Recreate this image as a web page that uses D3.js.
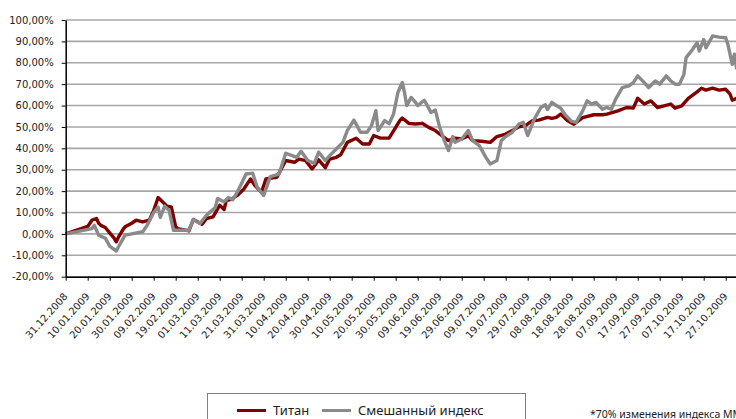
<!DOCTYPE html>
<meta charset="utf-8">
<style>
body { margin: 0; background: #fff; }
.axis text { font: 10px "DejaVu Sans", Verdana, sans-serif; fill: #222; }
.axis path, .axis line { stroke: #000; }
.legend text { font: 13px "Noto Sans", sans-serif; fill: #222; }
.note { font: 10.5px "Noto Sans", sans-serif; fill: #222; }
</style>
<body>
<script src="https://cdn.jsdelivr.net/npm/d3@7/dist/d3.min.js"></script>
<svg id="chart" width="736" height="419"></svg>
<script>
// Титан
var titanDates = ["31.12.2008","10.01.2009","12.01.2009","14.01.2009","15.01.2009","16.01.2009","18.01.2009","20.01.2009","22.01.2009","23.01.2009","24.01.2009","26.01.2009","27.01.2009","30.01.2009","01.02.2009","04.02.2009","07.02.2009","09.02.2009","10.02.2009","11.02.2009","13.02.2009","15.02.2009","17.02.2009","19.02.2009","20.02.2009","25.02.2009","27.02.2009","03.03.2009","05.03.2009","08.03.2009","11.03.2009","13.03.2009","14.03.2009","16.03.2009","19.03.2009","22.03.2009","25.03.2009","27.03.2009","30.03.2009","01.04.2009","06.04.2009","08.04.2009","10.04.2009","14.04.2009","16.04.2009","19.04.2009","22.04.2009","25.04.2009","28.04.2009","30.04.2009","03.05.2009","05.05.2009","08.05.2009","12.05.2009","15.05.2009","18.05.2009","20.05.2009","23.05.2009","27.05.2009","30.05.2009","01.06.2009","02.06.2009","05.06.2009","08.06.2009","11.06.2009","14.06.2009","17.06.2009","20.06.2009","23.06.2009","26.06.2009","29.06.2009","02.07.2009","04.07.2009","08.07.2009","12.07.2009","15.07.2009","19.07.2009","22.07.2009","25.07.2009","28.07.2009","31.07.2009","03.08.2009","07.08.2009","09.08.2009","11.08.2009","13.08.2009","16.08.2009","19.08.2009","23.08.2009","28.08.2009","01.09.2009","03.09.2009","08.09.2009","12.09.2009","15.09.2009","17.09.2009","20.09.2009","23.09.2009","26.09.2009","29.09.2009","02.10.2009","04.10.2009","07.10.2009","10.10.2009","14.10.2009","16.10.2009","18.10.2009","21.10.2009","24.10.2009","27.10.2009","29.10.2009","30.10.2009","01.11.2009"];
var titanValues = [0,3.5,6.5,7.2,5,4,3,0.5,-2,-3.7,-1.5,2,3.3,5,6.4,5.6,6.4,11,14,17,15,13,12.6,3.3,2.5,1.4,6.7,4.5,7.2,8,13.4,11.4,15.7,16,18,21,25.7,22.6,19.5,25.7,26.5,30.4,34.3,33.5,35,34.3,30.4,34.6,31,35,35.8,37,42.8,44.7,42,42,46,44.8,44.8,49.8,53.2,54.2,51.7,51.4,51.7,49.8,48.3,45.9,43.6,44.8,44.4,45.9,43.6,43.3,42.8,45.5,46.7,48.3,50.1,50.6,52.9,53.2,54.5,54,54.5,56,53,51.3,54.4,55.7,55.7,56,57.5,59.1,58.8,63.4,60.7,62.2,59.1,59.9,60.7,58.8,59.9,63.4,66.4,68.1,67.2,68.1,67.2,67.6,65.3,62.5,63.4];

// Смешанный индекс
var mixDates = ["31.12.2008","12.01.2009","13.01.2009","15.01.2009","18.01.2009","20.01.2009","23.01.2009","24.01.2009","27.01.2009","30.01.2009","04.02.2009","06.02.2009","09.02.2009","11.02.2009","12.02.2009","14.02.2009","16.02.2009","18.02.2009","21.02.2009","25.02.2009","27.02.2009","02.03.2009","05.03.2009","09.03.2009","10.03.2009","13.03.2009","15.03.2009","17.03.2009","19.03.2009","23.03.2009","26.03.2009","28.03.2009","31.03.2009","03.04.2009","07.04.2009","10.04.2009","13.04.2009","15.04.2009","17.04.2009","20.04.2009","23.04.2009","25.04.2009","28.04.2009","30.04.2009","03.05.2009","06.05.2009","08.05.2009","11.05.2009","14.05.2009","17.05.2009","19.05.2009","21.05.2009","22.05.2009","25.05.2009","27.05.2009","29.05.2009","31.05.2009","02.06.2009","03.06.2009","04.06.2009","06.06.2009","08.06.2009","09.06.2009","12.06.2009","13.06.2009","15.06.2009","17.06.2009","19.06.2009","21.06.2009","23.06.2009","25.06.2009","26.06.2009","29.06.2009","02.07.2009","04.07.2009","07.07.2009","10.07.2009","12.07.2009","15.07.2009","17.07.2009","19.07.2009","22.07.2009","25.07.2009","27.07.2009","29.07.2009","01.08.2009","04.08.2009","06.08.2009","07.08.2009","09.08.2009","11.08.2009","13.08.2009","15.08.2009","18.08.2009","20.08.2009","23.08.2009","25.08.2009","27.08.2009","29.08.2009","01.09.2009","03.09.2009","05.09.2009","07.09.2009","10.09.2009","13.09.2009","15.09.2009","17.09.2009","20.09.2009","22.09.2009","25.09.2009","27.09.2009","30.09.2009","02.10.2009","04.10.2009","06.10.2009","08.10.2009","09.10.2009","12.10.2009","14.10.2009","15.10.2009","17.10.2009","18.10.2009","21.10.2009","24.10.2009","27.10.2009","28.10.2009","30.10.2009","31.10.2009","01.11.2009"];
var mixValues = [0,2.5,4,-0.6,-2,-5.7,-8,-6,-0.6,0,1,4,10,12.6,7.7,13,11,1.7,1.7,1.7,6.7,4.8,8.7,12.3,16.5,15,17,16,19.5,28,28.4,21.9,18,26.8,28,37.7,36.6,35.8,38.6,34.3,33,38.2,34.3,36.6,39.7,42.8,48.3,53.2,47.5,47.5,50.6,57.6,48.3,53,51.5,56,66.1,70.8,66.1,60,63.8,61.5,60,62.5,60.7,56.8,57.9,49.8,43.9,39,45.5,42.8,44.4,48.3,43.6,41.3,35.8,32.7,34.3,43.6,45.5,47.5,51.4,52.2,46,53.7,59.1,60.4,58.2,61.5,60,58.8,55.7,52.6,52.1,57.5,62.2,60.7,61.5,58.3,59.1,58.3,63,68.4,69.2,70.7,73.9,70.7,68.4,71.5,70,73.9,71.5,70,70,74.6,82.4,86.3,89.4,85.5,90.9,87,92.5,92,91.7,88.6,79.3,84,77];

var xTickLabels = ["31.12.2008","10.01.2009","20.01.2009","30.01.2009","09.02.2009","19.02.2009","01.03.2009","11.03.2009","21.03.2009","31.03.2009","10.04.2009","20.04.2009","30.04.2009","10.05.2009","20.05.2009","30.05.2009","09.06.2009","19.06.2009","29.06.2009","09.07.2009","19.07.2009","29.07.2009","08.08.2009","18.08.2009","28.08.2009","07.09.2009","17.09.2009","27.09.2009","07.10.2009","17.10.2009","27.10.2009"];
var yTickValues = [-20,-10,0,10,20,30,40,50,60,70,80,90,100];

var seriesNames = ["Титан", "Смешанный индекс"];
var seriesColors = ["#800000", "#8a8a8a"];
var note = "*70% изменения индекса ММВБ";

var parse = d3.utcParse("%d.%m.%Y");
var fmt = d3.utcFormat("%d.%m.%Y");

var svg = d3.select("#chart");

var x = d3.scaleUtc()
    .domain([parse("31.12.2008"), parse("01.11.2009")])
    .range([65.7, 736.7]);
var y = d3.scaleLinear()
    .domain([-20, 100])
    .range([276.7, 20]);

// сетка
svg.append("g")
    .selectAll("line")
    .data(yTickValues)
    .enter().append("line")
    .attr("x1", 66).attr("x2", 736)
    .attr("y1", d => y(d)).attr("y2", d => y(d))
    .attr("stroke", "#a6a6a6")
    .attr("stroke-width", 1.6);

var line = d3.line()
    .x(d => x(d[0]))
    .y(d => y(d[1]));

var titan = titanDates.map((d, i) => [parse(d), titanValues[i]]);
var mix = mixDates.map((d, i) => [parse(d), mixValues[i]]);

svg.append("path")
    .datum(titan)
    .attr("d", line)
    .attr("fill", "none")
    .attr("stroke", seriesColors[0])
    .attr("stroke-width", 3.4)
    .attr("stroke-linejoin", "round");

svg.append("path")
    .datum(mix)
    .attr("d", line)
    .attr("fill", "none")
    .attr("stroke", seriesColors[1])
    .attr("stroke-width", 3.4)
    .attr("stroke-linejoin", "round");

// оси
var yAxis = svg.append("g")
    .attr("class", "axis")
    .attr("transform", "translate(65.7,0)")
    .call(d3.axisLeft(y)
        .tickValues(yTickValues)
        .tickSize(4)
        .tickSizeOuter(0)
        .tickPadding(8)
        .tickFormat(d => d.toFixed(2).replace(".", ",") + "%"));
yAxis.select(".domain").attr("stroke-width", 1.5);

var xAxis = svg.append("g")
    .attr("class", "axis")
    .attr("transform", "translate(0,276.7)")
    .call(d3.axisBottom(x)
        .tickValues(xTickLabels.map(parse))
        .tickSize(4)
        .tickSizeOuter(0)
        .tickFormat(fmt));
xAxis.select(".domain").attr("stroke-width", 1.5);
xAxis.selectAll("text")
    .attr("text-anchor", "end")
    .attr("dy", null)
    .attr("y", null)
    .attr("transform", "translate(2,20) rotate(-48)");

// легенда
var legend = svg.append("g").attr("class", "legend");
legend.append("rect")
    .attr("x", 207.5).attr("y", 393.5)
    .attr("width", 318).attr("height", 40)
    .attr("fill", "none")
    .attr("stroke", "#808080");

var legendX = [237, 322];
seriesNames.forEach(function (name, i) {
    legend.append("line")
        .attr("x1", legendX[i]).attr("x2", legendX[i] + 29)
        .attr("y1", 410.5).attr("y2", 410.5)
        .attr("stroke", seriesColors[i])
        .attr("stroke-width", 3);
    legend.append("text")
        .attr("x", legendX[i] + 36)
        .attr("y", 415)
        .text(name);
});

svg.append("text")
    .attr("class", "note")
    .attr("x", 590)
    .attr("y", 418)
    .text(note);
</script>
